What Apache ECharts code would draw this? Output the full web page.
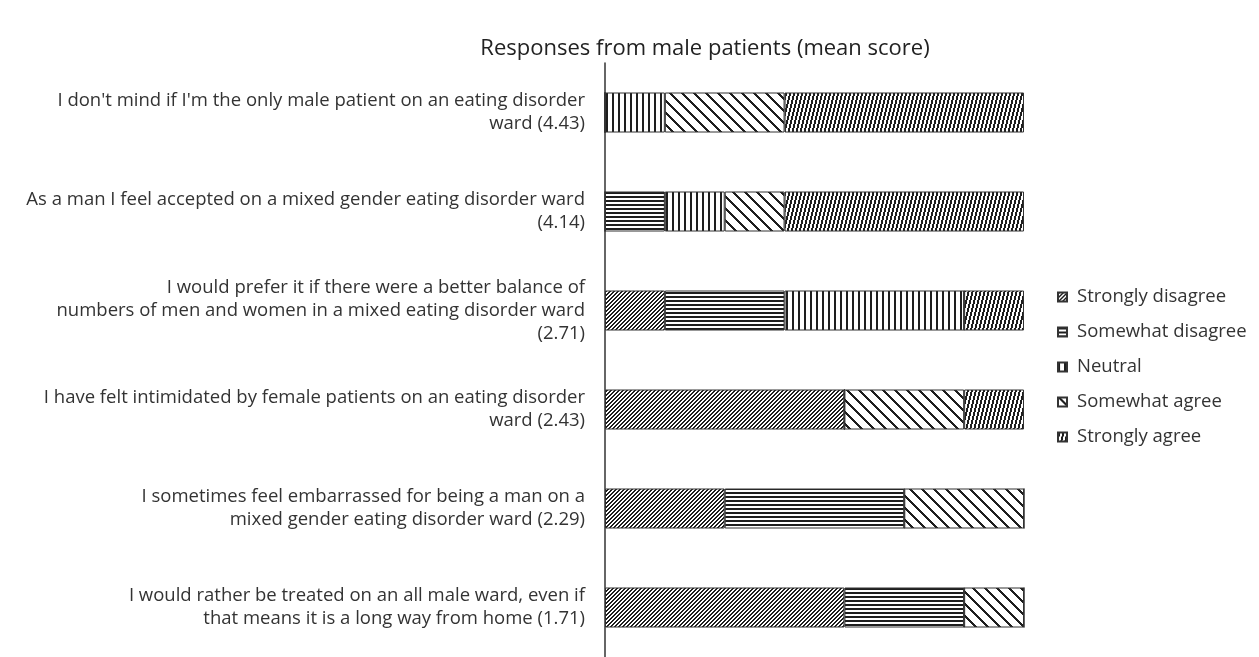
<!DOCTYPE html>
<html>
<head>
<meta charset="utf-8">
<script src="https://cdn.jsdelivr.net/npm/echarts@6/dist/echarts.min.js"></script>
<style>html,body{margin:0;padding:0;background:#fff}#c{width:1259px;height:657px}</style>
</head>
<body>
<div id="c"></div>
<script>
const categories = [
  "I don't mind if I'm the only male patient on an eating disorder\nward (4.43)",
  "As a man I feel accepted on a mixed gender eating disorder ward\n(4.14)",
  "I would prefer it if there were a better balance of\nnumbers of men and women in a mixed eating disorder ward\n(2.71)",
  "I have felt intimidated by female patients on an eating disorder\nward (2.43)",
  "I sometimes feel embarrassed for being a man on a\nmixed gender eating disorder ward (2.29)",
  "I would rather be treated on an all male ward, even if\nthat means it is a long way from home (1.71)"
];
const seriesNames = ["Strongly disagree", "Somewhat disagree", "Neutral", "Somewhat agree", "Strongly agree"];
// number of respondents (n = 7) per answer, per statement
const stronglyDisagree = [0, 0, 1, 4, 2, 4];
const somewhatDisagree = [0, 1, 2, 0, 3, 2];
const neutral          = [1, 1, 3, 0, 0, 0];
const somewhatAgree    = [2, 1, 0, 2, 2, 1];
const stronglyAgree    = [4, 4, 1, 1, 0, 0];
const totalRespondents = 7;

const INK = '#1e1e1e';
function makeTile(w, h, test) {
  const c = document.createElement('canvas');
  c.width = w; c.height = h;
  const ctx = c.getContext('2d');
  ctx.fillStyle = '#ffffff'; ctx.fillRect(0, 0, w, h);
  ctx.fillStyle = INK;
  for (let x = 0; x < w; x++) for (let y = 0; y < h; y++) if (test(x, y)) ctx.fillRect(x, y, 1, 1);
  return {image: c, repeat: 'repeat'};
}
const patterns = [
  makeTile(4, 4, (x, y) => ((x + y) % 4) < 2),
  makeTile(4, 4, (x, y) => (y % 4) < 2),
  makeTile(6, 6, (x, y) => (x % 6) < 2),
  makeTile(12, 12, (x, y) => (((x - y) % 12) + 12) % 12 < 3),
  makeTile(4, 16, (x, y) => ((x + Math.floor(y / 4)) % 4) < 2)
];
const values = [stronglyDisagree, somewhatDisagree, neutral, somewhatAgree, stronglyAgree];

const FONT = 'Open Sans';
const chart = echarts.init(document.getElementById('c'), null, {renderer: 'canvas'});
chart.setOption({
  animation: false,
  backgroundColor: '#ffffff',
  textStyle: {fontFamily: FONT},
  title: {
    text: 'Responses from male patients (mean score)',
    left: 700, top: 33, textAlign: 'center',
    textStyle: {fontFamily: FONT, fontSize: 22, fontWeight: 'normal', color: '#222'}
  },
  legend: {
    orient: 'vertical', left: 1052, top: 281,
    icon: 'rect', itemWidth: 9, itemHeight: 9, itemGap: 13,
    textStyle: {fontFamily: FONT, fontSize: 18.5, color: '#333', lineHeight: 22, padding: [0, 0, 0, 5]},
    data: seriesNames
  },
  grid: {left: 605, right: 235, top: 63, bottom: -4, containLabel: false},
  xAxis: {type: 'value', min: 0, max: totalRespondents, show: false},
  yAxis: {
    type: 'category', inverse: true, data: categories,
    axisLine: {lineStyle: {color: '#333', width: 1.5}},
    axisTick: {length: 7, lineStyle: {color: '#333', width: 1.5}},
    axisLabel: {margin: 20, fontFamily: FONT, fontSize: 18.5, lineHeight: 23, color: '#333', align: 'right', padding: [3, 0, 0, 0]}
  },
  series: seriesNames.map((name, i) => ({
    name, type: 'bar', stack: 'total', barWidth: 40,
    data: values[i],
    itemStyle: {color: patterns[i], borderColor: '#333', borderWidth: 1}
  }))
});
</script>
</body>
</html>
